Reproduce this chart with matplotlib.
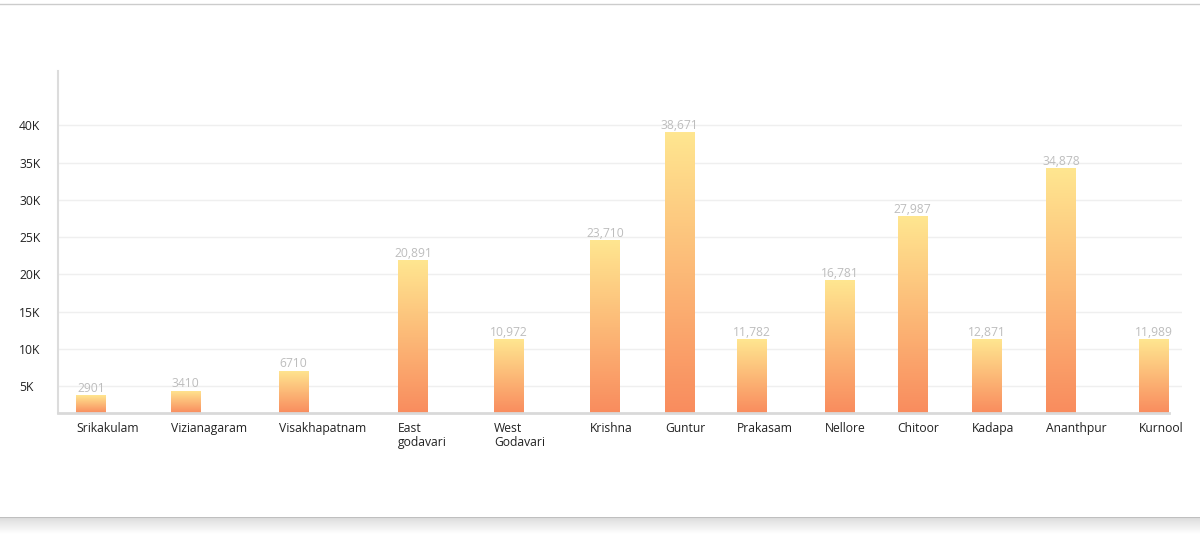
import matplotlib

matplotlib.use("Agg")
import matplotlib.pyplot as plt
import numpy as np
from matplotlib.colors import LinearSegmentedColormap
from matplotlib.lines import Line2D

# data
districts = [
    "Srikakulam", "Vizianagaram", "Visakhapatnam", "East godavari",
    "West Godavari", "Krishna", "Guntur", "Prakasam", "Nellore",
    "Chitoor", "Kadapa", "Ananthpur", "Kurnool",
]
bar_heights = [3750, 4370, 7050, 21900, 11300, 24600, 39100,
               11300, 19230, 27820, 11300, 34270, 11300]
value_labels = ["2901", "3410", "6710", "20,891", "10,972", "23,710", "38,671",
                "11,782", "16,781", "27,987", "12,871", "34,878", "11,989"]
y_ticks = [5000, 10000, 15000, 20000, 25000, 30000, 35000, 40000]
y_tick_labels = ["5K", "10K", "15K", "20K", "25K", "30K", "35K", "40K"]
y_range = (1400, 47300)

FONT = ["Open Sans", "DejaVu Sans"]
FS = 8.7
W, H, DPI = 1200, 534, 100
BAR_W, GAP, WRAP_W, FIRST = 30, 32, 64, 18  # px, mimics the flex layout

plt.rcParams["font.family"] = FONT

fig = plt.figure(figsize=(W / DPI, H / DPI), dpi=DPI, facecolor="white")
ax = fig.add_axes([58 / W, (H - 413) / H, (1182 - 58) / W, (413 - 71) / H])
renderer = fig.canvas.get_renderer()


def text_width(s):
    t = fig.text(0, 0, s, fontsize=FS)
    w = t.get_window_extent(renderer).width
    t.remove()
    return w


# slot positions follow label widths, like the original html layout
labels, lefts = [], []
x = FIRST
for name in districts:
    w = text_width(name)
    if w > WRAP_W and " " in name:
        name = name.replace(" ", "\n")
        w = WRAP_W
    labels.append(name)
    lefts.append(x)
    x += max(w, BAR_W) + GAP

bars = ax.bar(lefts, bar_heights, width=BAR_W, align="edge",
              color="none", edgecolor="none", zorder=2)

cmap = LinearSegmentedColormap.from_list("sunset", ["#F98C5E", "#FFE690"])
grad = np.linspace(0, 1, 256).reshape(-1, 1)
for bar, lbl in zip(bars, value_labels):
    x0, h = bar.get_x(), bar.get_height()
    im = ax.imshow(grad, extent=[x0, x0 + BAR_W, y_range[0], h], origin="lower",
                   aspect="auto", cmap=cmap, zorder=2)
    im.set_clip_path(bar)
    ax.annotate(lbl, (x0 + BAR_W / 2, h), xytext=(0, 2.5),
                textcoords="offset points", ha="center", va="baseline",
                color="#bdbdbd", fontsize=FS)

ax.set_xlim(0, (1182 - 58))
ax.set_ylim(*y_range)
ax.set_yticks(y_ticks, y_tick_labels)
ax.set_xticks(lefts, labels)
ax.tick_params(axis="y", length=0, pad=28, labelsize=FS, labelcolor="#222222")
ax.tick_params(axis="x", length=0, pad=6.5, labelsize=FS, labelcolor="#222222")
for t in ax.get_yticklabels():
    t.set_ha("left")
for t in ax.get_xticklabels():
    t.set_ha("left")
    t.set_linespacing(1.05)

ax.grid(axis="y", color="#efefef", lw=1, zorder=0)
ax.set_axisbelow(True)
for s in ("top", "right"):
    ax.spines[s].set_visible(False)
ax.spines["left"].set_color("#dcdcdc")
ax.spines["left"].set_linewidth(1.5)
ax.spines["bottom"].set_color("#d9d9d9")
ax.spines["bottom"].set_linewidth(2)
ax.spines["bottom"].set_bounds(0, lefts[-1] + BAR_W)

# card border and bottom shadow
fig.add_artist(Line2D([0, 1], [1 - 4 / H, 1 - 4 / H], color="#cccccc", lw=1))
sh = fig.add_axes([0, (H - 534) / H, 1, 17 / H])
shade = np.linspace(0, 1, 64).reshape(-1, 1)
sh.imshow(shade, cmap=LinearSegmentedColormap.from_list("sh", ["#ffffff", "#dcdcdc"]),
          aspect="auto", origin="lower", extent=[0, 1, 0, 1])
sh.axhline(1, color="#bfbfbf", lw=1.5)
sh.set_xlim(0, 1)
sh.set_ylim(0, 1)
sh.axis("off")

fig.savefig("out.png", dpi=DPI)
